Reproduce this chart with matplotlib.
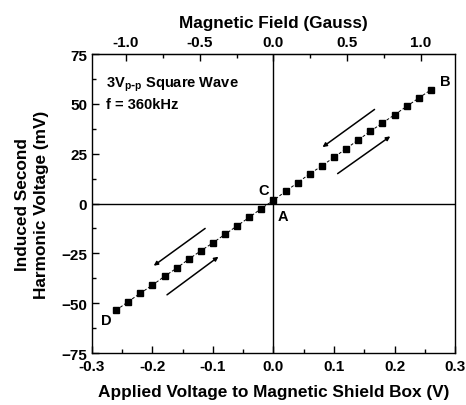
import matplotlib
matplotlib.use("Agg")
import matplotlib.pyplot as plt
from matplotlib.ticker import MultipleLocator, FixedLocator
import numpy as np

plt.rcParams['font.family'] = ['Liberation Sans', 'DejaVu Sans']
plt.rcParams['font.weight'] = 'bold'

# applied voltage (V) and induced second harmonic voltage (mV)
volt = [-0.26, -0.24, -0.22, -0.20, -0.18, -0.16, -0.14, -0.12, -0.10,
        -0.08, -0.06, -0.04, -0.02, 0.00, 0.02, 0.04, 0.06, 0.08, 0.10,
        0.12, 0.14, 0.16, 0.18, 0.20, 0.22, 0.24, 0.26]
harm = [-53.5, -49.2, -45.0, -40.9, -36.5, -32.4, -27.9, -23.7, -19.7,
        -15.4, -11.2, -6.9, -2.5, 1.6, 6.1, 10.5, 14.9, 18.9, 23.2,
        27.5, 31.9, 36.2, 40.4, 44.5, 48.7, 52.9, 57.0]

# volts per gauss for the top axis
v_per_gauss = 0.244
gauss_ticks = [-1.0, -0.5, 0.0, 0.5, 1.0]
gauss_minor = [-1.0, -0.75, -0.5, -0.25, 0.0, 0.25, 0.5, 0.75, 1.0]

# point labels
pt_names = ['A', 'B', 'C', 'D']
pt_xy = [(0.015, -6.5), (0.284, 61.5), (-0.016, 7.0), (-0.276, -58.5)]

# direction arrows (tail, head)
arrows = [((0.167, 47.2), (0.081, 28.3)),
          ((0.106, 15.0), (0.193, 33.7)),
          ((-0.113, -12.5), (-0.198, -31.2)),
          ((-0.176, -45.8), (-0.091, -26.7))]

fig = plt.figure(figsize=(4.66, 4.06), dpi=100)
ax = fig.add_axes([0.1974, 0.128, 0.779, 0.7365])

ax.axhline(0, color='black', lw=1.0, zorder=1)
ax.axvline(0, color='black', lw=1.0, zorder=1)

ax.plot(volt, harm, color='black', lw=0.7, ls=(0, (3, 2)),
        marker='s', ms=4.5, mfc='black', mec='black', zorder=3)

for tail, head in arrows:
    ax.annotate('', xy=head, xytext=tail,
                arrowprops=dict(arrowstyle='-|>', lw=1.1, color='black',
                                mutation_scale=6, shrinkA=0, shrinkB=0))

for name, (x, y) in zip(pt_names, pt_xy):
    ax.text(x, y, name, fontsize=10.5, fontweight='bold', ha='center', va='center')

ax.text(-0.277, 60, r'3V$_{\mathregular{p\text{-}p}}$ Square Wave', fontsize=10.5,
        fontweight='bold', ha='left', va='center')
ax.text(-0.277, 50, 'f = 360kHz', fontsize=10.5, fontweight='bold',
        ha='left', va='center')

ax.set_xlim(-0.3, 0.3)
ax.set_ylim(-75, 75)
ax.xaxis.set_major_locator(MultipleLocator(0.1))
ax.xaxis.set_minor_locator(MultipleLocator(0.05))
ax.yaxis.set_major_locator(MultipleLocator(25))
ax.yaxis.set_minor_locator(MultipleLocator(12.5))
ax.xaxis.set_major_formatter(plt.FuncFormatter(lambda v, p: f'{v:.1f}'))
ax.tick_params(which='both', direction='in', top=False, right=False,
               labelsize=11, width=1)
ax.tick_params(which='major', length=5)
ax.tick_params(which='minor', length=3)
ax.tick_params(axis='x', pad=4)

ax.set_xlabel('Applied Voltage to Magnetic Shield Box (V)', fontsize=12.4,
              fontweight='bold', labelpad=8)
ax.set_ylabel('Induced Second\nHarmonic Voltage (mV)', fontsize=12.4,
              fontweight='bold', labelpad=9, linespacing=1.35)

top = ax.secondary_xaxis('top', functions=(lambda v: v / v_per_gauss,
                                           lambda g: g * v_per_gauss))
top.xaxis.set_major_locator(FixedLocator(gauss_ticks))
top.xaxis.set_minor_locator(FixedLocator(gauss_minor))
top.xaxis.set_major_formatter(plt.FuncFormatter(lambda v, p: f'{v:.1f}'))
top.tick_params(which='both', direction='in', labelsize=11, width=1)
top.tick_params(which='major', length=5)
top.tick_params(which='minor', length=3)
top.set_xlabel('Magnetic Field (Gauss)', fontsize=12.4, fontweight='bold', labelpad=6)

for s in ax.spines.values():
    s.set_linewidth(1.0)

fig.savefig('out.png', dpi=100)
